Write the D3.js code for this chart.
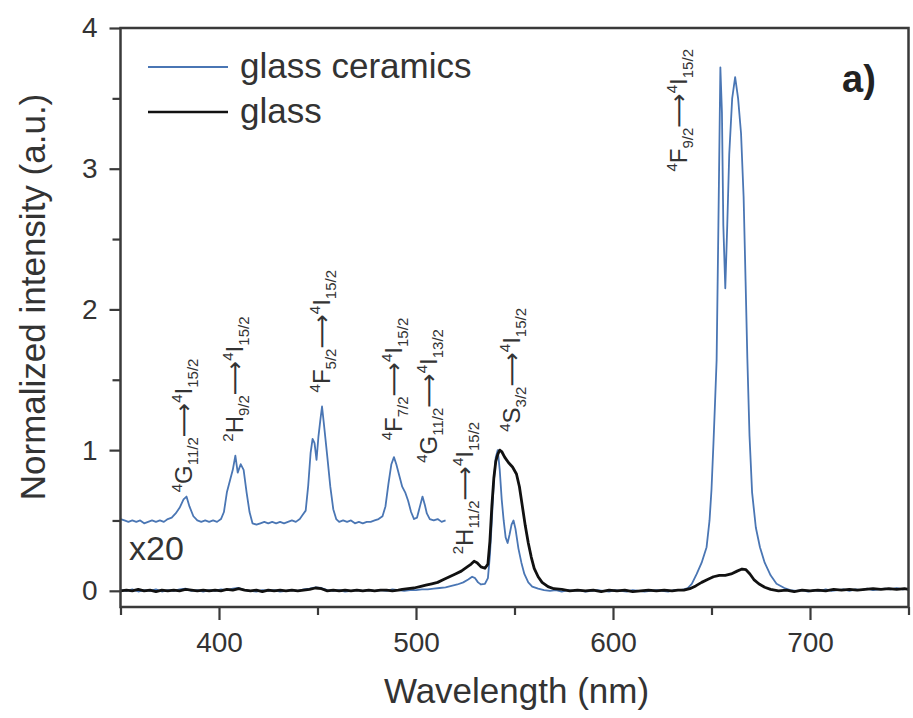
<!DOCTYPE html>
<html>
<head>
<meta charset="utf-8">
<script src="https://cdn.jsdelivr.net/npm/d3@7"></script>
<style>
  body { margin: 0; background: #fff; }
  svg { display: block; font-family: "Liberation Sans", Arial, sans-serif; }
</style>
</head>
<body>
<div id="chart"></div>
<script>
// tick values
const xTicks = [400, 500, 600, 700];
const xMinorTicks = [350, 450, 550, 650, 750];
const yTicks = [0, 1, 2, 3, 4];
const yMinorTicks = [0.5, 1.5, 2.5, 3.5];

// glass ceramics, normalized (wavelength nm, intensity)
const ceramicsPts = [
  [350,0.005],[353,0.0],[356,0.01],[359,-0.005],[362,0.005],[365,0.0],[368,0.01],[371,-0.005],[374,0.005],[377,0.0],
  [380,0.01],[383,0.015],[386,0.0],[389,0.005],[392,-0.005],[395,0.005],[398,0.0],[401,0.01],[404,0.005],[407,0.015],
  [410,0.02],[413,0.005],[416,0.0],[419,-0.005],[422,0.005],[425,0.0],[428,0.005],[431,-0.005],[434,0.0],[437,0.005],
  [440,0.0],[443,0.01],[446,0.015],[449,0.025],[452,0.02],[455,0.005],[458,0.0],[461,0.005],[464,-0.005],[467,0.0],
  [470,0.005],[473,0.0],[476,0.005],[479,0.0],[482,0.005],[485,0.0],[488,0.01],[491,0.005],[494,0.0],[497,0.005],
  [500,0.005],[503,0.01],[506,0.01],[509,0.015],[512,0.02],[515,0.025],[518,0.035],[521,0.045],[524,0.06],[526.5,0.08],
  [528.5,0.10],[530,0.09],[531.5,0.06],[533,0.045],[535,0.05],[536.5,0.09],[537.5,0.25],[538.5,0.5],[539.5,0.78],[540.5,0.95],
  [541.5,1.0],[542.5,0.86],[543.5,0.65],[544.5,0.5],[545.5,0.38],[546.5,0.34],[547.5,0.40],[548.5,0.47],[549.5,0.50],[550.5,0.44],
  [552,0.30],[553.5,0.2],[555,0.12],[557,0.06],[559,0.03],[562,0.015],[565,0.005],[568,0.0],[571,0.005],[574,-0.005],
  [577,0.005],[580,0.0],[583,0.005],[586,-0.005],[589,0.0],[592,0.005],[595,0.0],[598,-0.005],[601,0.005],[604,0.0],
  [607,-0.005],[610,0.005],[613,0.0],[616,-0.005],[619,0.0],[622,0.005],[625,0.0],[628,-0.005],[631,0.005],[634,0.005],
  [636,0.01],[638,0.02],[640,0.05],[642.5,0.12],[645,0.2],[647.5,0.31],[649,0.5],[650,0.72],[651,1.05],[651.8,1.34],
  [652.6,1.64],[653.5,2.6],[654.5,3.72],[655.3,3.4],[656,2.6],[657,2.15],[658,2.6],[659,3.1],[660.5,3.5],[662,3.65],
  [663.5,3.5],[665,3.25],[666.3,2.8],[667.3,2.2],[668.2,1.65],[669.3,1.1],[670.6,0.7],[672.5,0.45],[674.6,0.31],[677,0.2],
  [680,0.11],[683,0.05],[687,0.02],[690,0.005],[693,0.0],[696,0.005],[699,-0.005],[702,0.005],[705,0.0],[708,0.01],
  [711,0.0],[714,0.005],[717,0.01],[720,0.0],[723,0.01],[726,0.005],[729,0.015],[732,0.005],[735,0.01],[738,0.015],
  [741,0.01],[744,0.02],[747,0.01],[750,0.015]
];

// glass ceramics x20 (offset +0.5)
const ceramicsX20Pts = [
  [350,0.51],[352,0.50],[354,0.49],[356,0.50],[358,0.49],[360,0.50],[362,0.48],[364,0.49],[366,0.50],[368,0.49],
  [370,0.50],[372,0.49],[374,0.51],[376,0.52],[378,0.55],[380,0.59],[382,0.65],[383.5,0.67],[385,0.60],[387,0.53],
  [389,0.50],[391,0.49],[393,0.50],[395,0.49],[397,0.50],[399,0.49],[401,0.51],[402.5,0.56],[404,0.70],[405.5,0.78],
  [407,0.86],[408.3,0.96],[409.5,0.84],[411,0.90],[412.5,0.86],[414,0.70],[415.5,0.56],[417,0.48],[419,0.47],[421,0.48],
  [423,0.49],[425,0.48],[427,0.49],[429,0.48],[431,0.49],[433,0.48],[435,0.49],[437,0.50],[439,0.49],[441,0.51],
  [442.5,0.54],[444,0.57],[445.3,0.75],[446.5,0.98],[447.5,1.08],[448.5,1.05],[449.5,0.93],[450.5,1.10],[451.5,1.22],[452.3,1.31],
  [453.3,1.18],[455,0.95],[456.5,0.74],[458,0.58],[459.5,0.51],[461,0.49],[463,0.50],[465,0.49],[467,0.50],[469,0.48],
  [471,0.49],[473,0.48],[475,0.49],[477,0.49],[479,0.50],[481,0.51],[483,0.53],[484.5,0.60],[486,0.76],[487.5,0.90],
  [488.8,0.95],[490,0.90],[491.5,0.82],[493,0.74],[494.5,0.70],[496,0.64],[497.5,0.56],[499,0.51],[500.5,0.52],[502,0.60],
  [503.3,0.67],[504.5,0.61],[505.5,0.55],[507,0.51],[509,0.50],[511,0.51],[513,0.49],[515,0.50]
];

// glass, normalized
const glassPts = [
  [350,0.0],[353,0.005],[356,0.0],[359,0.01],[362,0.0],[365,0.005],[368,-0.005],[371,0.005],[374,0.0],[377,0.005],
  [380,0.0],[383,0.01],[386,0.005],[389,0.0],[392,0.005],[395,0.0],[398,0.005],[401,0.0],[404,0.01],[407,0.005],
  [410,0.015],[413,0.005],[416,0.0],[419,0.005],[422,-0.005],[425,0.005],[428,0.0],[431,0.005],[434,0.0],[437,0.005],
  [440,0.0],[443,0.005],[446,0.01],[449,0.02],[452,0.015],[455,0.0],[458,0.005],[461,0.0],[464,0.005],[467,0.0],
  [470,0.005],[473,0.0],[476,0.005],[479,0.0],[482,0.005],[485,0.005],[488,0.0],[491,0.005],[493,0.01],[496,0.015],
  [499,0.02],[502,0.03],[505,0.04],[508,0.05],[511,0.06],[514,0.08],[517,0.1],[520,0.12],[523,0.14],[526,0.17],
  [528,0.19],[529.5,0.21],[531,0.2],[533,0.17],[535,0.16],[536.5,0.19],[537.5,0.35],[538.5,0.6],[539.5,0.8],[540.5,0.92],
  [541.5,0.97],[542.5,1.0],[543.5,0.99],[545,0.95],[547,0.91],[549,0.88],[551,0.83],[552.5,0.74],[554,0.6],[555.5,0.46],
  [557,0.34],[558.5,0.24],[560,0.16],[562,0.1],[564,0.06],[567,0.03],[570,0.015],[574,0.01],[578,0.0],[582,0.005],
  [586,0.0],[590,0.005],[594,-0.005],[598,0.005],[602,0.0],[606,0.005],[610,-0.005],[614,0.0],[618,0.005],[622,0.0],
  [626,0.005],[630,0.0],[633,0.005],[636,0.005],[639,0.015],[642,0.035],[645,0.06],[648,0.08],[651,0.1],[654,0.11],
  [657,0.11],[660,0.12],[663,0.14],[665.5,0.155],[667.5,0.15],[669.5,0.12],[671.5,0.08],[674,0.05],[677,0.025],[680,0.01],
  [684,0.0],[688,0.005],[692,-0.005],[696,0.005],[700,0.0],[704,0.005],[708,0.0],[712,0.01],[716,0.005],[720,0.01],
  [724,0.005],[728,0.01],[732,0.015],[736,0.01],[740,0.015],[744,0.01],[748,0.015],[750,0.01]
];

// transition labels and where their lower end sits (wavelength, intensity)
const transitionLabels = [
  [["4","sup"],["G","main"],["11/2","sub"],["\u27F6","arrow"],["4","sup"],["I","main"],["15/2","sub"]],
  [["2","sup"],["H","main"],["9/2","sub"],["\u27F6","arrow"],["4","sup"],["I","main"],["15/2","sub"]],
  [["4","sup"],["F","main"],["5/2","sub"],["\u27F6","arrow"],["4","sup"],["I","main"],["15/2","sub"]],
  [["4","sup"],["F","main"],["7/2","sub"],["\u27F6","arrow"],["4","sup"],["I","main"],["15/2","sub"]],
  [["4","sup"],["G","main"],["11/2","sub"],["\u27F6","arrow"],["4","sup"],["I","main"],["13/2","sub"]],
  [["2","sup"],["H","main"],["11/2","sub"],["\u27F6","arrow"],["4","sup"],["I","main"],["15/2","sub"]],
  [["4","sup"],["S","main"],["3/2","sub"],["\u27F6","arrow"],["4","sup"],["I","main"],["15/2","sub"]],
  [["4","sup"],["F","main"],["9/2","sub"],["\u27F6","arrow"],["4","sup"],["I","main"],["15/2","sub"]]
];
const labelWl = [386.3, 412.2, 456.3, 492.9, 510.7, 529.0, 552.8, 637.6];
const labelInt = [0.70, 1.06, 1.41, 1.07, 0.91, 0.26, 1.13, 2.98];

const seriesNames = ["glass ceramics", "glass"];
const seriesColors = ["#4a76b4", "#111111"];

const width = 913, height = 718;
const plot = { left: 120.5, right: 908.5, top: 28, bottom: 607 };

const svg = d3.select("#chart").append("svg")
  .attr("width", width)
  .attr("height", height);

const x = d3.scaleLinear().domain([350, 750]).range([plot.left, plot.right]);
const y = d3.scaleLinear().domain([-0.115, 4]).range([plot.bottom, plot.top]);

svg.append("clipPath").attr("id", "clip")
  .append("rect")
  .attr("x", plot.left).attr("y", plot.top)
  .attr("width", plot.right - plot.left).attr("height", plot.bottom - plot.top);

const line = d3.line().x(d => x(d[0])).y(d => y(d[1]));

const curves = svg.append("g").attr("clip-path", "url(#clip)");
curves.append("path").datum(ceramicsX20Pts)
  .attr("d", line).attr("fill", "none")
  .attr("stroke", seriesColors[0]).attr("stroke-width", 1.8).attr("stroke-linejoin", "round");
curves.append("path").datum(ceramicsPts)
  .attr("d", line).attr("fill", "none")
  .attr("stroke", seriesColors[0]).attr("stroke-width", 1.8).attr("stroke-linejoin", "round");
curves.append("path").datum(glassPts)
  .attr("d", line).attr("fill", "none")
  .attr("stroke", seriesColors[1]).attr("stroke-width", 2.8).attr("stroke-linejoin", "round");

// frame
svg.append("rect")
  .attr("x", plot.left).attr("y", plot.top)
  .attr("width", plot.right - plot.left).attr("height", plot.bottom - plot.top)
  .attr("fill", "none").attr("stroke", "#3a3a3a").attr("stroke-width", 2.5);

// axes
const axisColor = "#3a3a3a";
function styleAxis(g) {
  g.select(".domain").remove();
  g.selectAll(".tick line").attr("stroke", axisColor).attr("stroke-width", 2.2);
  g.selectAll(".tick text").attr("fill", "#333").attr("font-size", 28)
    .attr("font-family", "Liberation Sans, Arial, sans-serif");
}

svg.append("g").attr("transform", `translate(0,${plot.bottom})`)
  .call(d3.axisBottom(x).tickValues(xTicks).tickSize(13).tickPadding(12).tickFormat(d3.format("d")))
  .call(styleAxis);
svg.append("g").attr("transform", `translate(0,${plot.bottom})`)
  .call(d3.axisBottom(x).tickValues(xMinorTicks).tickSize(8).tickFormat(""))
  .call(styleAxis);
svg.append("g").attr("transform", `translate(${plot.left},0)`)
  .call(d3.axisLeft(y).tickValues(yTicks).tickSize(11).tickPadding(12).tickFormat(d3.format("d")))
  .call(styleAxis);
svg.append("g").attr("transform", `translate(${plot.left},0)`)
  .call(d3.axisLeft(y).tickValues(yMinorTicks).tickSize(8).tickFormat(""))
  .call(styleAxis);

// axis titles
svg.append("text")
  .attr("x", (plot.left + plot.right) / 2 + 2).attr("y", 703)
  .attr("text-anchor", "middle").attr("font-size", 35).attr("fill", "#333")
  .text("Wavelength (nm)");
svg.append("text")
  .attr("transform", "translate(45,297) rotate(-90)")
  .attr("text-anchor", "middle").attr("font-size", 35).attr("fill", "#333")
  .text("Normalized intensity (a.u.)");

// legend
seriesNames.forEach((name, i) => {
  const ly = 67 + i * 45;
  svg.append("line")
    .attr("x1", 148).attr("x2", 228).attr("y1", ly).attr("y2", ly)
    .attr("stroke", seriesColors[i]).attr("stroke-width", i === 0 ? 2.2 : 2.6);
  svg.append("text")
    .attr("x", 240).attr("y", ly + 11)
    .attr("font-size", 35).attr("fill", "#333")
    .text(name);
});

// panel tag and scale note
svg.append("text")
  .attr("x", 842).attr("y", 92)
  .attr("font-size", 38).attr("font-weight", "bold").attr("fill", "#222")
  .text("a)");
svg.append("text")
  .attr("x", 129).attr("y", 560)
  .attr("font-size", 34).attr("fill", "#333")
  .text("x20");

// transition labels (rotated, read bottom to top)
const partStyle = {
  main: { size: 24, shift: 0 },
  sup: { size: 15, shift: -10 },
  sub: { size: 15, shift: 6 },
  arrow: { size: 24, shift: 0 }
};
transitionLabels.forEach((parts, i) => {
  const t = svg.append("text")
    .attr("transform", `translate(${x(labelWl[i])},${y(labelInt[i])}) rotate(-90)`)
    .attr("fill", "#333");
  let cur = 0;
  parts.forEach(([txt, kind]) => {
    const st = partStyle[kind];
    const ts = t.append("tspan")
      .attr("font-size", st.size)
      .attr("dy", st.shift - cur)
      .text(txt);
    if (kind === "arrow") ts.attr("font-family", "DejaVu Sans, sans-serif");
    cur = st.shift;
  });
});
</script>
</body>
</html>
